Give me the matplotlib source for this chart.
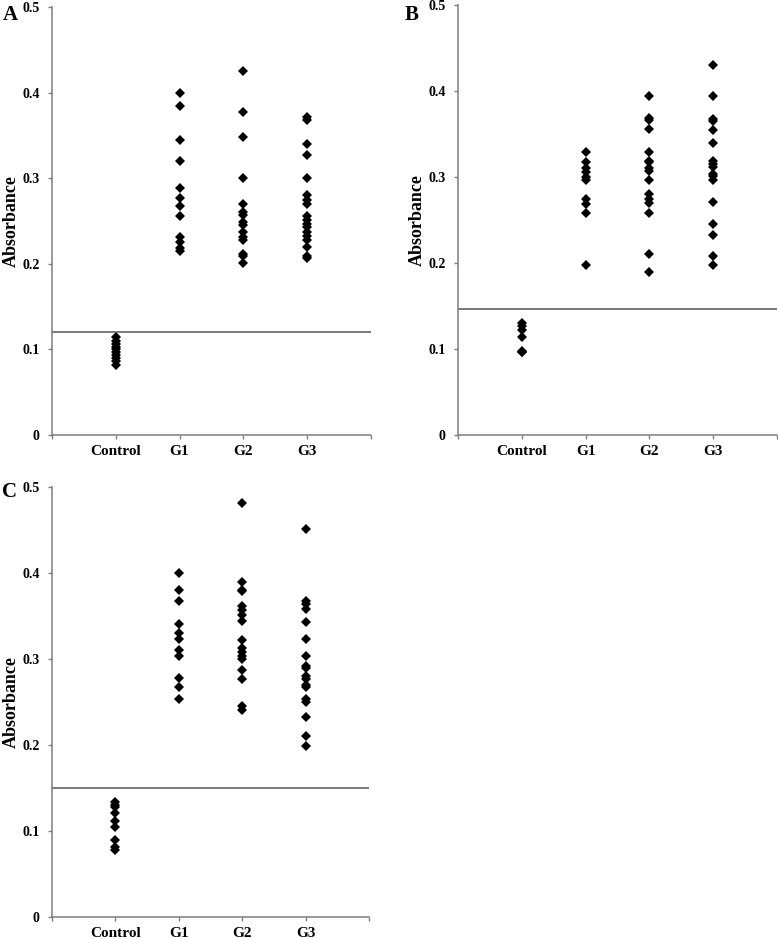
import numpy as np
import matplotlib
matplotlib.use("Agg")
import matplotlib.pyplot as plt

plt.rcParams["font.family"] = ["Liberation Serif", "DejaVu Serif"]

groups = ["Control", "G1", "G2", "G3"]

# panel A
a_control = [0.114, 0.110, 0.106, 0.103, 0.100, 0.097, 0.094, 0.090, 0.086, 0.082]
a_g1 = [0.400, 0.384, 0.345, 0.320, 0.289, 0.277, 0.267, 0.256, 0.231, 0.225, 0.218, 0.215]
a_g2 = [0.425, 0.377, 0.348, 0.300, 0.270, 0.261, 0.257, 0.249, 0.245, 0.237, 0.231, 0.228,
        0.212, 0.209, 0.201]
a_g3 = [0.372, 0.368, 0.340, 0.327, 0.300, 0.280, 0.275, 0.270, 0.256, 0.251, 0.247, 0.243,
        0.237, 0.233, 0.228, 0.220, 0.209, 0.207]

# panel B
b_control = [0.130, 0.127, 0.122, 0.114, 0.098, 0.097, 0.096]
b_g1 = [0.329, 0.318, 0.310, 0.306, 0.300, 0.296, 0.274, 0.269, 0.258, 0.198]
b_g2 = [0.394, 0.369, 0.366, 0.356, 0.329, 0.319, 0.317, 0.311, 0.307, 0.297, 0.280, 0.275,
        0.270, 0.258, 0.211, 0.189]
b_g3 = [0.430, 0.394, 0.368, 0.365, 0.355, 0.339, 0.319, 0.315, 0.312, 0.304, 0.301, 0.297,
        0.271, 0.245, 0.232, 0.208, 0.198]

# panel C
c_control = [0.134, 0.130, 0.128, 0.121, 0.112, 0.105, 0.089, 0.081, 0.078]
c_g1 = [0.400, 0.380, 0.367, 0.341, 0.330, 0.323, 0.310, 0.304, 0.278, 0.268, 0.254]
c_g2 = [0.481, 0.390, 0.380, 0.379, 0.362, 0.357, 0.351, 0.344, 0.322, 0.313, 0.308, 0.304,
        0.300, 0.287, 0.277, 0.245, 0.241]
c_g3 = [0.451, 0.367, 0.364, 0.358, 0.343, 0.323, 0.304, 0.292, 0.289, 0.280, 0.277, 0.270,
        0.268, 0.253, 0.250, 0.232, 0.211, 0.199]

panels = [
    ("A", [a_control, a_g1, a_g2, a_g3], 0.120),
    ("B", [b_control, b_g1, b_g2, b_g3], 0.147),
    ("C", [c_control, c_g1, c_g2, c_g3], 0.150),
]

# axes rectangles [left, bottom, width, height] in figure fractions
rects = [
    [0.0668, 0.5367, 0.410, 0.4558],
    [0.5887, 0.5367, 0.410, 0.4580],
    [0.0668, 0.0234, 0.4075, 0.4580],
]
letter_pos = [(0.003, 0.995), (0.520, 0.995), (0.003, 0.487)]

fig = plt.figure(figsize=(7.78, 9.39), dpi=100)
gris = "#7f7f7f"

for (letra, dane, cutoff), rect, lp in zip(panels, rects, letter_pos):
    ax = fig.add_axes(rect)
    for i, vals in enumerate(dane):
        ax.plot(np.full(len(vals), i + 1), vals, "D", color="black",
                markersize=4.8, markeredgewidth=0, linestyle="none")
    ax.axhline(cutoff, color="#555555", linewidth=1.1)
    ax.set_xlim(0, 5)
    ax.set_ylim(0, 0.5)
    ax.set_xticks([0, 1, 2, 3, 4, 5])
    ax.set_xticklabels([""] + groups + [""], fontsize=11, fontweight="bold")
    ax.set_yticks([0, 0.1, 0.2, 0.3, 0.4, 0.5])
    ax.set_yticklabels(["0", "0.1", "0.2", "0.3", "0.4", "0.5"], fontsize=10, fontweight="bold")
    ax.tick_params(axis="both", direction="out", length=3, width=1, color=gris)
    ax.tick_params(axis="x", pad=4)
    ax.tick_params(axis="y", pad=6)
    for s in ["top", "right"]:
        ax.spines[s].set_visible(False)
    for s in ["left", "bottom"]:
        ax.spines[s].set_color(gris)
        ax.spines[s].set_linewidth(1.1)
    ax.set_ylabel("Absorbance", fontsize=13, fontweight="bold")
    ax.yaxis.set_label_coords(-0.10, 0.5)
    fig.text(lp[0], lp[1], letra, fontsize=15, fontweight="bold", va="top", ha="left")

fig.savefig("out.png", dpi=100)
